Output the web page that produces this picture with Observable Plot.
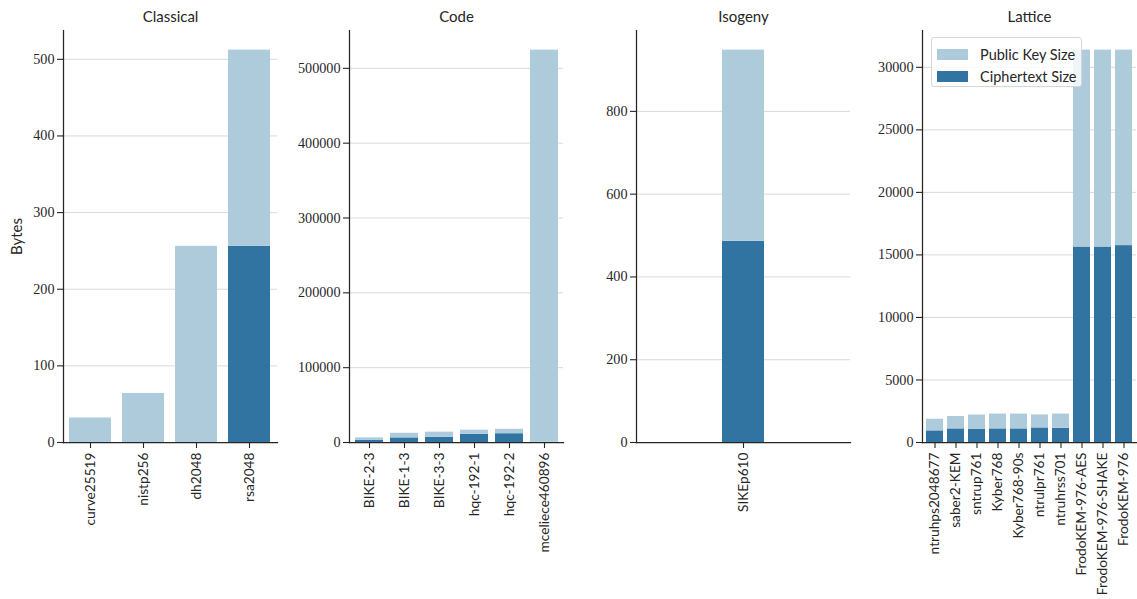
<!DOCTYPE html>
<html>
<head>
<meta charset="utf-8">
<script src="https://cdn.jsdelivr.net/npm/d3@7"></script>
<script src="https://cdn.jsdelivr.net/npm/@observablehq/plot@0.6"></script>
<style>
  body { margin: 0; background: #fff; }
  #chart { position: relative; width: 1137px; height: 599px; overflow: hidden; background: #fff; }
  #chart svg { position: absolute; top: 0; overflow: visible; }
  .legend {
    position: absolute; left: 931px; top: 37px; width: 151px; height: 50px;
    box-sizing: border-box; padding: 5px 0 0 5px;
    background: rgba(255,255,255,0.8); border: 1px solid #d6d6d6; border-radius: 3px;
    font-family: Lato, sans-serif; font-size: 14.5px; color: #262626;
  }
  .legend .row { display: flex; align-items: center; height: 22.5px; }
  .legend .sw { width: 31px; height: 11px; margin-right: 12px; flex: none; }
</style>
</head>
<body>
<div id="chart"></div>
<script>
// Key-encapsulation sizes (bytes), grouped by family of scheme
const families = ["Classical", "Code", "Isogeny", "Lattice"];

const classicalNames = ["curve25519", "nistp256", "dh2048", "rsa2048"];
const classicalPk = [32, 64, 256, 256];
const classicalCt = [0, 0, 0, 256];
const classicalTicks = [0, 100, 200, 300, 400, 500];

const codeNames = ["BIKE-2-3", "BIKE-1-3", "BIKE-3-3", "hqc-192-1", "hqc-192-2", "mceliece460896"];
const codePk = [3083, 6166, 6914, 5499, 5884, 524160];
const codeCt = [3083, 6166, 6914, 10981, 11749, 188];
const codeTicks = [0, 100000, 200000, 300000, 400000, 500000];

const isogenyNames = ["SIKEp610"];
const isogenyPk = [462];
const isogenyCt = [486];
const isogenyTicks = [0, 200, 400, 600, 800];

const latticeNames = ["ntruhps2048677", "saber2-KEM", "sntrup761", "Kyber768", "Kyber768-90s",
  "ntrulpr761", "ntruhrss701", "FrodoKEM-976-AES", "FrodoKEM-976-SHAKE", "FrodoKEM-976"];
const latticePk = [930, 992, 1158, 1184, 1184, 1039, 1138, 15744, 15744, 15632];
const latticeCt = [930, 1088, 1039, 1088, 1088, 1167, 1138, 15632, 15632, 15744];
const latticeTicks = [0, 5000, 10000, 15000, 20000, 25000, 30000];

const seriesNames = ["Public Key Size", "Ciphertext Size"];
const seriesColors = ["#aecbdc", "#3274a1"];

const ink = "#262626";
const plotWidth = 214;

function panel({title, names, pk, ct, ticks, marginLeft, outer = 0.1, yLabel = null}) {
  const rows = [];
  names.forEach((name, i) => {
    rows.push({name, kind: seriesNames[1], value: ct[i]});
    rows.push({name, kind: seriesNames[0], value: pk[i]});
  });
  const top = d3.max(names, (_, i) => pk[i] + ct[i]) * 1.05;
  const marks = [
    Plot.gridY(ticks, {stroke: "#d9d9d9", strokeOpacity: 1, strokeWidth: 1}),
    Plot.barY(rows, {x: "name", y: "value", fill: "kind", order: [seriesNames[1], seriesNames[0]]}),
    Plot.axisY(ticks, {tickSize: 6, tickPadding: 3, tickFormat: d => String(d), label: null,
      fontFamily: "Liberation Serif", fontSize: 14.2, strokeWidth: 1.1}),
    Plot.axisX({tickRotate: -90, tickSize: 6, tickPadding: 4, label: null, fontSize: 13.7, strokeWidth: 1.1}),
    Plot.frame({anchor: "left", stroke: ink, strokeWidth: 1.25}),
    Plot.frame({anchor: "bottom", stroke: ink, strokeWidth: 1.25}),
    Plot.text([title], {text: d => d, frameAnchor: "top", lineAnchor: "middle", dy: -13, fontSize: 15})
  ];
  if (yLabel) {
    marks.push(Plot.text([yLabel], {text: d => d, frameAnchor: "left", textAnchor: "middle",
      lineAnchor: "middle", rotate: -90, dx: -46, fontSize: 15}));
  }
  return Plot.plot({
    width: marginLeft + plotWidth + 2,
    height: 599,
    marginTop: 30,
    marginBottom: 157,
    marginLeft,
    marginRight: 2,
    style: {fontFamily: "Lato, sans-serif", fontSize: "13px", color: ink, background: "transparent"},
    x: {type: "band", domain: names, paddingInner: 0.2, paddingOuter: outer, label: null},
    y: {domain: [0, top], label: null},
    color: {domain: seriesNames, range: seriesColors},
    marks
  });
}

const chart = document.getElementById("chart");
const panels = [
  {title: families[0], names: classicalNames, pk: classicalPk, ct: classicalCt, ticks: classicalTicks, marginLeft: 63, yLabel: "Bytes", left: 0},
  {title: families[1], names: codeNames, pk: codePk, ct: codeCt, ticks: codeTicks, marginLeft: 60, left: 289},
  {title: families[2], names: isogenyNames, pk: isogenyPk, ct: isogenyCt, ticks: isogenyTicks, marginLeft: 60, outer: 1.6, left: 576},
  {title: families[3], names: latticeNames, pk: latticePk, ct: latticeCt, ticks: latticeTicks, marginLeft: 60, left: 862}
];
for (const p of panels) {
  const svg = panel(p);
  svg.style.left = p.left + "px";
  chart.appendChild(svg);
}

// Legend drawn over the lattice panel
const legend = document.createElement("div");
legend.className = "legend";
seriesNames.forEach((name, i) => {
  const row = document.createElement("div");
  row.className = "row";
  const sw = document.createElement("span");
  sw.className = "sw";
  sw.style.background = seriesColors[i];
  const label = document.createElement("span");
  label.textContent = name;
  row.append(sw, label);
  legend.appendChild(row);
});
chart.appendChild(legend);
</script>
</body>
</html>
